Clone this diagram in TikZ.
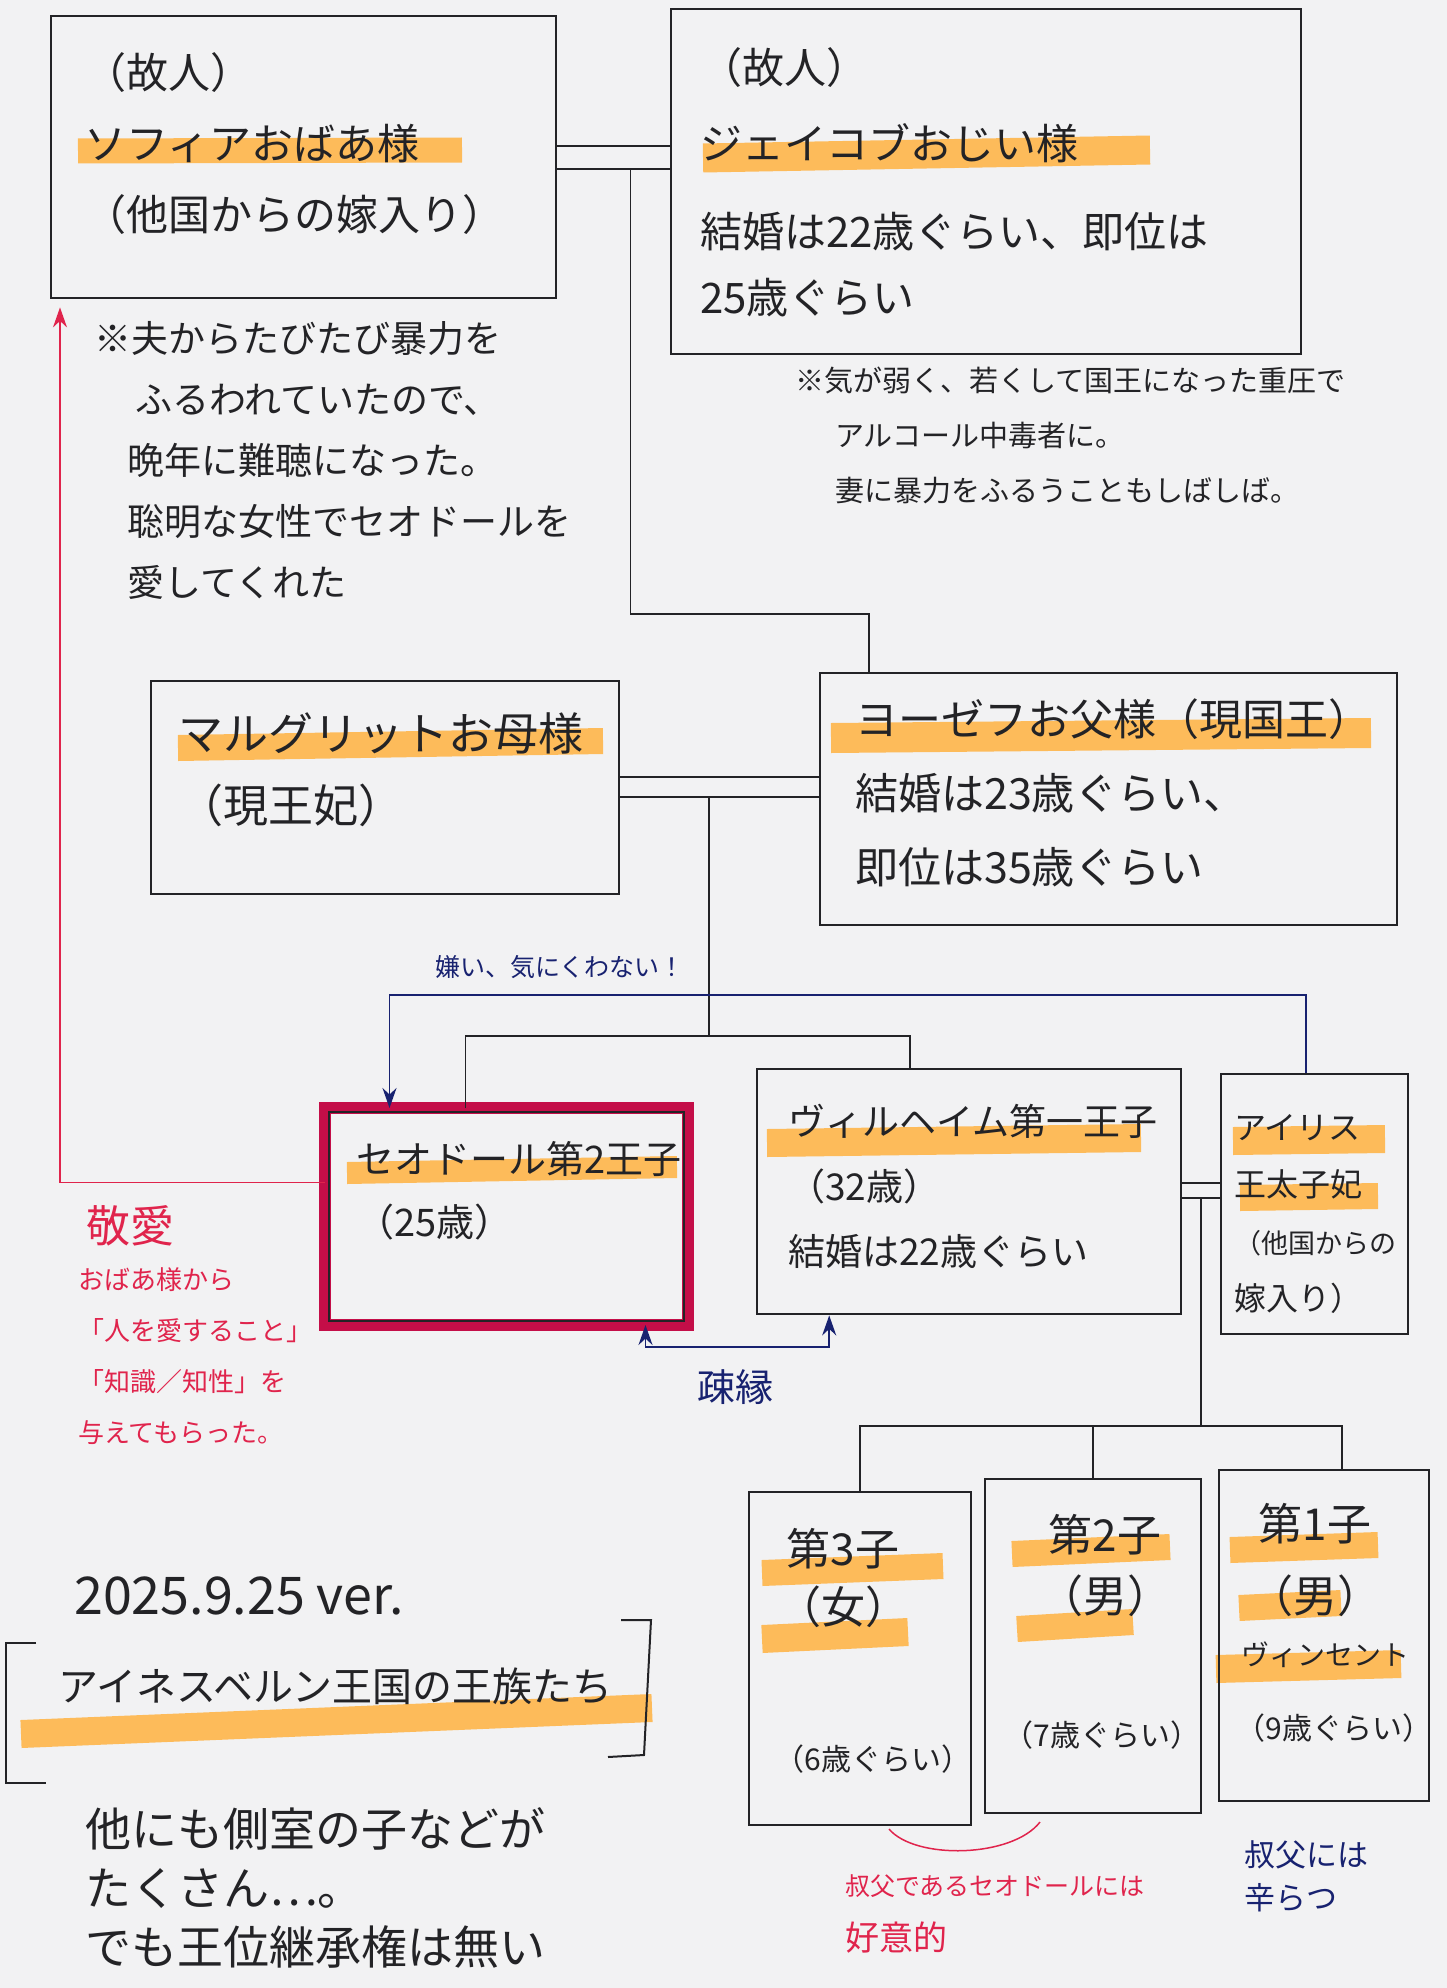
\documentclass[tikz,border=0pt]{standalone}
\usepackage{fontspec}
\setmainfont{Noto Sans CJK JP}
\usepackage{tikz}
\usetikzlibrary{arrows.meta,positioning}
\definecolor{ink}{RGB}{35,35,38}
\definecolor{aka}{RGB}{224,36,76}
\definecolor{beni}{RGB}{196,14,72}
\definecolor{ao}{RGB}{24,34,112}
\definecolor{daidai}{RGB}{255,178,64}
\definecolor{papier}{RGB}{242,242,243}
\newcommand{\jfs}[2]{\fontsize{#1}{#2}\selectfont}
\tikzset{
    %Define standard arrow tip
    >={Stealth[length=20pt,width=14pt]},
    %Define style for boxes
    hako/.style={
           rectangle,
           draw=ink, line width=2.4pt,
           inner sep=0pt,
           anchor=north west},
    hakoaka/.style={
           hako,
           draw=beni, line width=12pt,
           outer sep=0pt},
    moji/.style={
           inner sep=0pt,
           anchor=north west,
           align=left,
           text=ink},
    % Define highlighter style
    keikou/.style={
           draw=daidai, opacity=.85},
    % Define line styles
    sen/.style={draw=ink, line width=1.8pt},
    aosen/.style={draw=ao, line width=1.8pt},
    akasen/.style={draw=aka, line width=1.5pt}
}

\begin{document}
\begin{tikzpicture}[x=1pt,y=-1pt]
\useasboundingbox (0,0) rectangle (1447,1988);
\fill[papier] (0,0) rectangle (1447,1988);

% highlighter under the names
\draw[keikou, line width=25pt] (78,151) -- (462,150);
\draw[keikou, line width=29pt] (703,158) -- (1150,150);
\draw[keikou, line width=26pt] (178,748) -- (603,741);
\draw[keikou, line width=30pt] (831,738) -- (1371,733);
\draw[keikou, line width=22pt] (347,1173) -- (677,1167);
\draw[keikou, line width=28pt] (767,1143) -- (1141,1138);
\draw[keikou, line width=28pt] (1233,1141) -- (1385,1139);
\draw[keikou, line width=26pt] (1240,1198) -- (1378,1196);
\draw[keikou, line width=26pt] (762,1573) -- (943,1566);
\draw[keikou, line width=28pt] (762,1639) -- (908,1632);
\draw[keikou, line width=26pt] (1012,1554) -- (1170,1547);
\draw[keikou, line width=26pt] (1017,1629) -- (1133,1622);
\draw[keikou, line width=26pt] (1230,1550) -- (1378,1545);
\draw[keikou, line width=26pt] (1239,1608) -- (1341,1603);
\draw[keikou, line width=28pt] (1216,1669) -- (1401,1664);
\draw[keikou, line width=28pt] (21,1734) -- (652,1708);

% boxes
\node[hako, minimum width=505pt, minimum height=282pt] (1) at (50,15) {};
\node[hako, minimum width=630pt, minimum height=345pt] (2) at (670,8) {};
\node[hako, minimum width=468pt, minimum height=213pt] (3) at (150,680) {};
\node[hako, minimum width=577pt, minimum height=252pt] (4) at (819,672) {};
\node[hakoaka, minimum width=363pt, minimum height=217pt] (5) at (325,1108) {};
\draw[ink, line width=2.2pt] ([shift={(4,4)}]5.north west) rectangle ([shift={(-4,-4)}]5.south east);
\node[hako, minimum width=424pt, minimum height=245pt] (6) at (756,1068) {};
\node[hako, minimum width=187pt, minimum height=260pt] (7) at (1220,1073) {};
\node[hako, minimum width=222pt, minimum height=333pt] (8) at (748,1491) {};
\node[hako, minimum width=216pt, minimum height=334pt] (9) at (984,1478) {};
\node[hako, minimum width=210pt, minimum height=331pt] (10) at (1218,1469) {};

% texts in the boxes
\node[moji, font=\jfs{42}{71}] (1t) at (84,52) {（故人）\\ソフィアおばあ様\\（他国からの嫁入り）};
\node[moji, font=\jfs{42}{76}] (2t) at (700,47) {（故人）\\ジェイコブおじい様\\[12pt]結婚は22歳ぐらい、即位は\\[-10pt]25歳ぐらい};
\node[moji, font=\jfs{45}{72}] (3t) at (178,712) {マルグリットお母様\\（現王妃）};
\node[moji, font=\jfs{43}{74}] (4t) at (855,698) {ヨーゼフお父様（現国王）\\結婚は23歳ぐらい、\\即位は35歳ぐらい};
\node[moji, font=\jfs{38}{63}] (5t) at (356,1141) {セオドール第2王子\\（25歳）};
\node[moji, font=\jfs{37}{65}] (6t) at (788,1104) {ヴィルヘイム第一王子\\（32歳）\\結婚は22歳ぐらい};
\node[moji, font=\jfs{32}{57}] (7t) at (1234,1114) {アイリス\\王太子妃\\{\jfs{27}{57}（他国からの}\\嫁入り）};
\node[moji, anchor=north, align=center, font=\jfs{44}{58}] (8t) at (843,1528) {第3子\\（女）};
\node[moji, anchor=center, font=\jfs{30}{36}] (8a) at (873,1759) {（6歳ぐらい）};
\node[moji, anchor=north, align=center, font=\jfs{44}{61}] (9t) at (1105,1514) {第2子\\（男）};
\node[moji, anchor=center, font=\jfs{30}{36}] (9a) at (1102,1735) {（7歳ぐらい）};
\node[moji, anchor=north, align=center, font=\jfs{44}{72}] (10t) at (1315,1503) {第1子\\（男）};
\node[moji, anchor=center, font=\jfs{28}{34}] (10n) at (1325,1655) {ヴィンセント};
\node[moji, anchor=center, font=\jfs{30}{36}] (10a) at (1334,1728) {（9歳ぐらい）};

% notes
\node[moji, font=\jfs{37}{61}] (n1) at (94,321) {※夫からたびたび暴力を\\\hspace*{41pt}ふるわれていたので、\\\hspace*{33pt}晩年に難聴になった。\\\hspace*{33pt}聡明な女性でセオドールを\\\hspace*{33pt}愛してくれた};
\node[moji, font=\jfs{29}{55}] (n2) at (795,367) {※気が弱く、若くして国王になった重圧で\\\hspace*{40pt}アルコール中毒者に。\\\hspace*{40pt}妻に暴力をふるうこともしばしば。};

% marriages and descent
\draw[sen] ([yshift=11pt]1.east) -- ([yshift=11pt]1.east -| 2.west);
\draw[sen] ([yshift=-12pt]1.east) -- ([yshift=-12pt]1.east -| 2.west) coordinate[pos=.65] (e1);
\draw[sen] (e1) -- ++(0,445) -| ([xshift=-240pt]4.north);
\draw[sen] ([yshift=10.5pt]3.east) -- ([yshift=10.5pt]3.east -| 4.west);
\draw[sen] ([yshift=-9.5pt]3.east) -- ([yshift=-9.5pt]3.east -| 4.west) coordinate[pos=.448] (e2);
\draw[sen] (e2) -- ++(0,239) coordinate (k1);
\draw[sen] ([xshift=-41pt]5.north) |- (k1) -| ([xshift=-59pt]6.north);
\draw[sen] ([yshift=8.5pt]6.east) -- ([yshift=8.5pt]6.east -| 7.west);
\draw[sen] ([yshift=-6.5pt]6.east) -- ([yshift=-6.5pt]6.east -| 7.west) coordinate[pos=.5] (e3);
\draw[sen] (e3) -- ++(0,228) coordinate (k2);
\draw[sen] (8.north) |- (k2) -| ([xshift=18pt]10.north);
\draw[sen] (9.north) -- (9.north |- k2);

% feelings
\coordinate (k3) at (800,995);
\draw[aosen,<-] ([xshift=-117pt]5.north) |- (k3) -| ([xshift=-9pt]7.north);
\node[moji, text=ao, font=\jfs{25}{30}, anchor=west] (b1) at (435,967) {嫌い、気にくわない！};
\draw[aosen,<->] ([xshift=139pt]5.south) -- ++(0,22) -| ([xshift=-140pt]6.south);
\node[moji, text=ao, font=\jfs{38}{44}, anchor=center] (b2) at (735,1387) {疎縁};
\draw[akasen,->] ([yshift=34pt]5.west) -| ([xshift=10pt,yshift=-8pt]1.south west);
\node[moji, text=aka, font=\jfs{44}{50}] (r1) at (86,1205) {敬愛};
\node[moji, text=aka, font=\jfs{26}{51}] (r2) at (78,1267) {おばあ様から\\「人を愛すること」\\「知識／知性」を\\与えてもらった。};
\draw[akasen] (889,1829) .. controls (915,1860) and (1012,1858) .. (1040,1822);
\node[moji, text=aka, font=\jfs{25}{55}] (r3) at (845,1874) {叔父であるセオドールには\\{\jfs{34}{55}好意的}};
\node[moji, text=ao, font=\jfs{31}{43}] (b3) at (1244,1840) {叔父には\\辛らつ};

% title
\node[moji, anchor=west, font=\jfs{52}{60}] (d1) at (74,1596) {2025.9.25 ver.};
\draw[ink, line width=2pt] (36,1643) -- (6,1643) -- (6,1783) -- (46,1783);
\draw[ink, line width=2pt] (621,1620) -- (651,1620) -- (644,1755) -- (608,1757);
\node[moji, anchor=west, font=\jfs{40}{48}] (d2) at (58,1686) {アイネスベルン王国の王族たち};
\node[moji, font=\jfs{46}{59}] (d3) at (85,1807) {他にも側室の子などが\\たくさん…。\\でも王位継承権は無い};
\end{tikzpicture}
\end{document}
